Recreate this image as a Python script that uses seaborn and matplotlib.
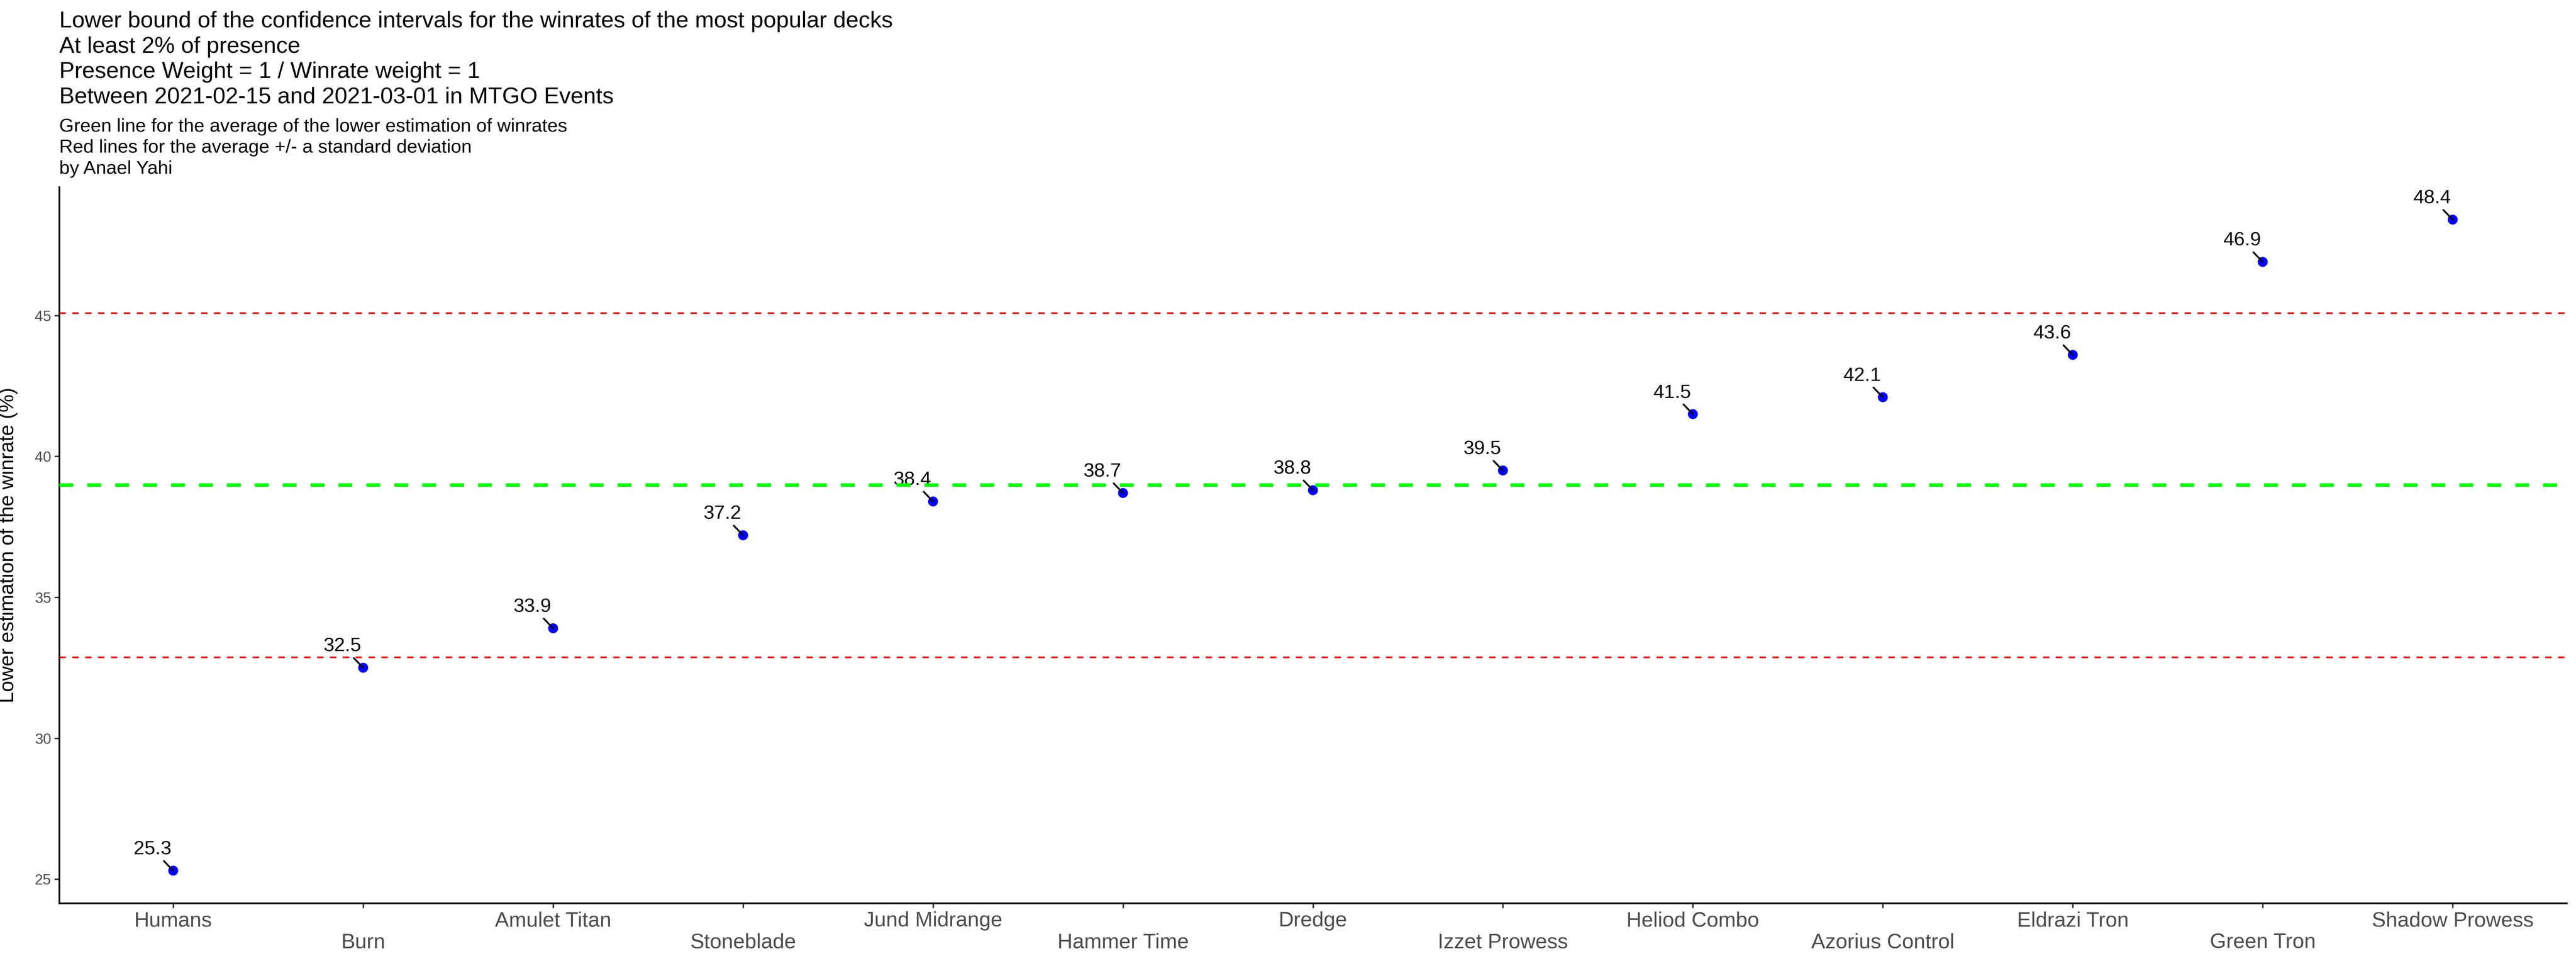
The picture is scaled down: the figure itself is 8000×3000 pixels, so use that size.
# Imports
import numpy as np
import pandas as pd
import seaborn as sns
import matplotlib.pyplot as plt


# Data
DECKS = ["Humans", "Burn", "Amulet Titan", "Stoneblade", "Jund Midrange",
         "Hammer Time", "Dredge", "Izzet Prowess", "Heliod Combo",
         "Azorius Control", "Eldrazi Tron", "Green Tron", "Shadow Prowess"]
LOWER_WR = [25.3, 32.5, 33.9, 37.2, 38.4, 38.7, 38.8, 39.5, 41.5, 42.1,
            43.6, 46.9, 48.4]
Y_TICKS = [25, 30, 35, 40, 45]
TITLE = ["Lower bound of the confidence intervals for the winrates of the "
         "most popular decks",
         "At least 2% of presence",
         "Presence Weight = 1 / Winrate weight = 1",
         "Between 2021-02-15 and 2021-03-01 in MTGO Events"]
SUBTITLE = ["Green line for the average of the lower estimation of winrates",
            "Red lines for the average +/- a standard deviation",
            "by Anael Yahi"]

df = pd.DataFrame({"deck": DECKS, "wr": LOWER_WR})
mean = df["wr"].mean()
sd = df["wr"].std()


# Figure
sns.set_theme(style="ticks")
plt.rcParams["font.family"] = ["Liberation Sans", "DejaVu Sans"]
W, H = 8000, 3000
fig = plt.figure(figsize=(W / 300, H / 300), dpi=300)
ax = fig.add_axes([184 / W, 1 - 2805 / H, (7971 - 184) / W,
                   (2805 - 581) / H])

sns.scatterplot(data=df, x="deck", y="wr", color="#0000FF", s=55,
                edgecolor="none", ax=ax, zorder=2)
ax.axhline(mean, color="#00FF00", lw=2.6, linestyle=(0, (4, 4)), zorder=4)
for val in (mean - sd, mean + sd):
    ax.axhline(val, color="#FF0000", lw=1.2, linestyle=(0, (4, 4)),
               zorder=4)

# value labels pushed up-left with a leader segment (ggrepel style)
for i, (deck, wr) in enumerate(zip(DECKS, LOWER_WR)):
    ax.annotate(f"{wr:.1f}", xy=(i, wr), xytext=(-15.4, 12.2),
                textcoords="offset points", ha="center", va="baseline",
                fontsize=14.5, color="black", zorder=3,
                arrowprops=dict(arrowstyle="-", color="black", lw=1.3,
                                shrinkA=0, shrinkB=0))

# axes styling, ggplot classic look
n = len(DECKS)
ax.set_xlim(-0.6, n - 1 + 0.6)
span = max(LOWER_WR) - min(LOWER_WR)
ax.set_ylim(min(LOWER_WR) - 0.05 * span, max(LOWER_WR) + 0.05 * span)
ax.set_yticks(Y_TICKS)
ax.set_yticklabels([str(t) for t in Y_TICKS])
ax.set_xticks(range(n))
ax.set_xticklabels([d if i % 2 == 0 else "\n" + d
                    for i, d in enumerate(DECKS)], linespacing=1.15)
ax.tick_params(axis="x", labelsize=15.6, labelcolor="#4D4D4D",
               color="#333333", length=3.5, width=1.1, pad=2.5)
ax.tick_params(axis="y", labelsize=11, labelcolor="#4D4D4D",
               color="#333333", length=3.5, width=1.1, pad=2.5)
for side in ("top", "right"):
    ax.spines[side].set_visible(False)
for side in ("left", "bottom"):
    ax.spines[side].set_color("black")
    ax.spines[side].set_linewidth(1.3)
ax.grid(False)
ax.set_xlabel("")
ax.set_ylabel("Lower estimation of the winrate (%)", fontsize=15,
              color="black")
ax.yaxis.set_label_coords((55 - 184) / (7971 - 184), 0.5)

# title block
for k, line in enumerate(TITLE):
    fig.text(184 / W, 1 - (85 + 78.6 * k) / H, line, fontsize=17,
             ha="left", va="baseline", color="black")
for k, line in enumerate(SUBTITLE):
    fig.text(184 / W, 1 - (409 + 65.5 * k) / H, line, fontsize=14,
             ha="left", va="baseline", color="black")

fig.savefig("out.png", dpi=300, facecolor="white")
